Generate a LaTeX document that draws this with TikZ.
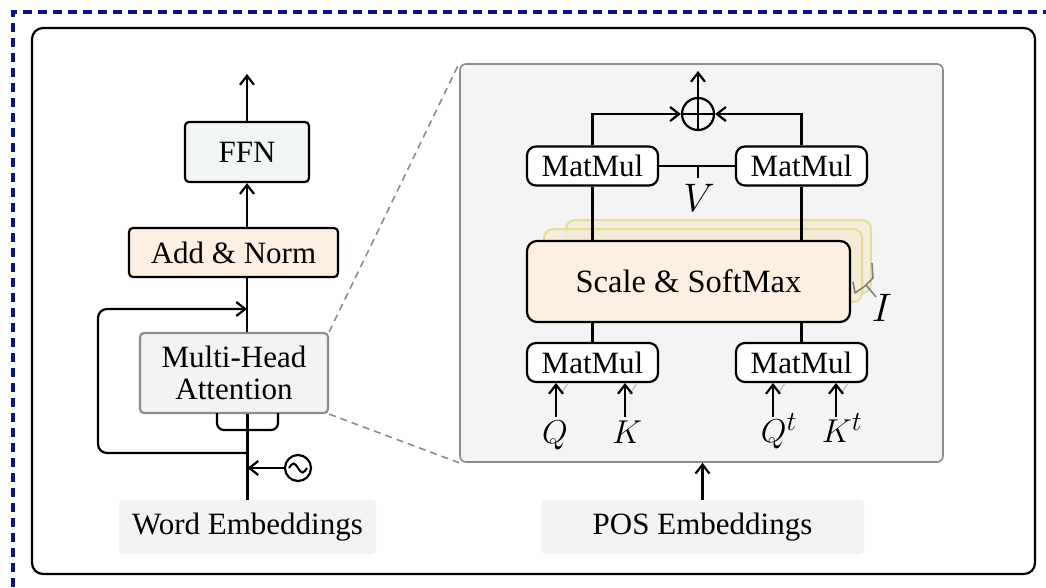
\documentclass[tikz,border=0pt]{standalone}
\usepackage[no-math]{fontspec}
\setmainfont{Liberation Serif}
\usetikzlibrary{arrows.meta}
\definecolor{frameblue}{RGB}{12,18,135}
\definecolor{ffnfill}{RGB}{241,245,246}
\definecolor{peach}{RGB}{253,240,227}
\definecolor{lightgray}{RGB}{243,243,243}
\definecolor{panelgray}{RGB}{244,244,244}
\definecolor{panelline}{RGB}{140,140,140}
\definecolor{layerfill}{RGB}{244,236,212}
\definecolor{layerline}{RGB}{224,214,140}
\tikzset{
  txt/.style={font=\fontsize{31}{33}\selectfont},
  blk/.style={draw, line width=2.2pt, rounded corners=4pt, inner sep=0pt, align=center, txt},
  mm/.style={draw, fill=white, line width=2.2pt, rounded corners=9pt, inner sep=0pt,
             minimum width=131pt, minimum height=39pt, txt},
  embed/.style={fill=lightgray, rounded corners=4pt, inner sep=0pt, txt},
  conn/.style={line width=2.2pt},
  arr/.style={line width=2.2pt, -{Straight Barb[length=9pt,width=14pt,line width=2.2pt]}},
  layer/.style={fill=layerfill, draw=layerline, line width=2pt, rounded corners=9pt, opacity=0.8},
  mathlbl/.style={inner sep=0pt, font=\fontsize{24.88}{26}\selectfont, scale=#1},
  mathlbl/.default=1.33
}
\begin{document}
\begin{tikzpicture}[x=1pt,y=-1pt]
\useasboundingbox (0,0) rectangle (1046,587);

% outer frames
\draw[frameblue, line width=4pt, dash pattern=on 9pt off 6pt] (13,587) -- (13,12) -- (1046,12);
\draw[line width=2.2pt, rounded corners=11pt] (32,28) rectangle (1035,574);

% ---------- encoder layer (left) ----------
\node[blk, fill=ffnfill, minimum width=124pt, minimum height=60pt] (ffn) at (247,152) {FFN};
\node[blk, fill=peach, minimum width=209pt, minimum height=49pt] (an) at (233.5,252.5) {Add \& Norm};
\node[blk, fill=lightgray, draw=panelline, minimum width=188pt, minimum height=80pt,
      font=\fontsize{31}{32}\selectfont] (mha) at (234,373) {Multi-Head\\Attention};
\node[embed, minimum width=257pt, minimum height=54pt] (we) at (247.5,527) {Word Embeddings};
\coordinate (out) at (247,74);

\draw[arr] (ffn.north) -- (out);
\draw[arr] (an.north -| ffn.south) -- (ffn.south);
\draw[conn] (mha.north -| ffn.south) -- (an.south -| ffn.south);
\draw[conn] (we.north) -- (we.north |- mha.south);

% split into the attention inputs
\coordinate (brl) at (217,413);
\coordinate (brr) at (278,413);
\draw[conn, rounded corners=7pt] (brl) -- (217,430) -- (278,430) -- (brr);

% residual connection
\coordinate (rs) at (247,453);
\coordinate (rj) at (247,309);
\draw[arr, rounded corners=9pt] (rs) -- (98,453) -- (98,309) -- (rj);

% positional encoding
\node[circle, draw, line width=2.2pt, minimum size=26pt, inner sep=0pt] (pe) at (298,468) {};
\draw[line width=2pt] (289,468) sin (293.5,463.5) cos (298,468) sin (302.5,472.5) cos (307,468);
\draw[arr] (pe.west) -- (pe.west -| we.north);

% ---------- zoomed attention panel (right) ----------
\node[draw=panelline, fill=panelgray, line width=1.6pt, rounded corners=6pt,
      minimum width=483pt, minimum height=398pt, inner sep=0pt] (panel) at (701.5,263) {};
\draw[panelline, line width=1.6pt, dash pattern=on 7pt off 5pt] (mha.north east) -- (panel.north west);
\draw[panelline, line width=1.6pt, dash pattern=on 7pt off 5pt] (mha.south east) -- (panel.south west);

% stacked heads
\draw[layer] (566,220) rectangle (871,293);
\draw[layer] (544,229) rectangle (862,302);
\node[blk, fill=peach, rounded corners=10pt, minimum width=323pt, minimum height=81pt,
      font=\fontsize{32.5}{34}\selectfont] (sm) at (688.5,281.5) {Scale \& SoftMax};

% head-count bracket
\draw[gray, line width=1.6pt, line join=round] (853,282) -- (855,293) -- (865,286) -- (873,278) -- (872,263);
\coordinate (brtip) at (866,285);
\node[mathlbl=1.6] (ilbl) at (882,308) {$I$};
\draw[gray, line width=1.6pt] (brtip) -- (876,297);

% MatMul blocks
\node[mm] (mtl) at (592.5,166) {MatMul};
\node[mm] (mtr) at (801.5,166) {MatMul};
\node[mm] (mbl) at (592.5,362.5) {MatMul};
\node[mm] (mbr) at (801.5,362.5) {MatMul};

% sum of the two branches
\node[circle, draw, line width=2.2pt, minimum size=32pt, inner sep=0pt] (sum) at (698,114) {};
\draw[conn] (sum.north) -- (sum.south);
\draw[conn] (sum.west) -- (sum.east);
\coordinate (sumout) at (698,71);
\draw[arr] (sum.north) -- (sumout);
\draw[arr] (mtl.north) |- (sum.west);
\draw[arr] (mtr.north) |- (sum.east);

% value input
\draw[conn] (mtl.east) -- (mtr.west);
\coordinate (vj) at (698,166);
\draw[conn] (vj) -- (698,178);
\node[mathlbl=1.6] (vlbl) at (699,198) {$V$};

% softmax to MatMuls
\draw[conn] (mtl.south) -- (mtl.south |- sm.north);
\draw[conn] (mtr.south) -- (mtr.south |- sm.north);
\draw[conn] (mbl.north) -- (mbl.north |- sm.south);
\draw[conn] (mbr.north) -- (mbr.north |- sm.south);

% query / key inputs
\node[mathlbl, anchor=north] (q)  at (555,421) {$Q$};
\node[mathlbl, anchor=north] (k)  at (627,421) {$K$};
\node[mathlbl, anchor=north] (qt) at (779,413) {$Q^t$};
\node[mathlbl, anchor=north] (kt) at (842,413) {$K^t$};
\foreach \x/\n in {556/q, 625/k, 773/qt, 836/kt}{
  \draw[black!22, line width=1.5pt] (\x+5,394) -- (\x+12,383);
  \draw[arr] (\x,417) -- (\x,383);
}

% POS embeddings
\node[embed, minimum width=323pt, minimum height=54pt] (pos) at (702.5,527) {POS Embeddings};
\draw[arr] (pos.north) -- (pos.north |- panel.south);

\end{tikzpicture}
\end{document}
